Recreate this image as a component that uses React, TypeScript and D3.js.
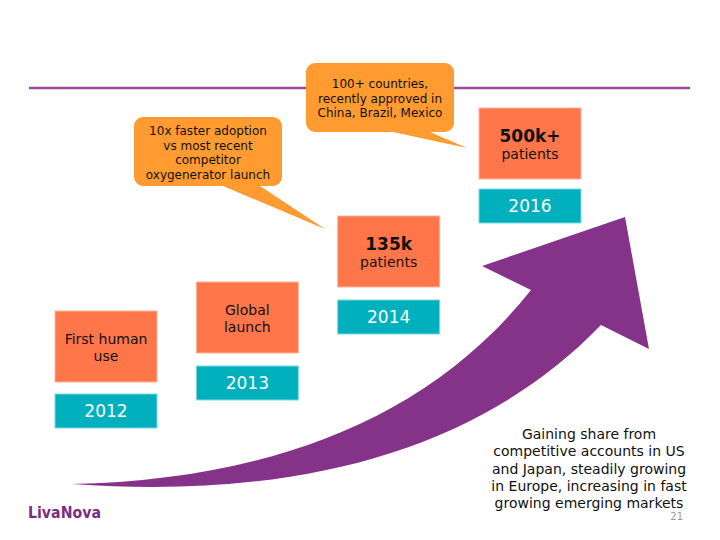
import React from "react";
import * as d3 from "d3";

const years = ["2012", "2013", "2014", "2016"];
const milestoneLines = [["First human", "use"], ["Global", "launch"], ["135k", "patients"], ["500k+", "patients"]];
const boldFirst = [false, false, true, true];
const boxTops = [311, 282, 216, 108];
const yearGap = [12, 13, 13, 10];
const callout1 = ["10x faster adoption", "vs most recent", "competitor", "oxygenerator launch"];
const callout2 = ["100+ countries,", "recently approved in", "China, Brazil, Mexico"];
const summary = ["Gaining share from", "competitive accounts in US", "and Japan, steadily growing", "in Europe, increasing in fast", "growing emerging markets"];

const W = 720, H = 540;
const ORANGE = "#FF764B";
const TEAL = "#00B1BD";
const CALLOUT = "#FF9B30";
const PURPLE = "#843388";
const FONT = "'DejaVu Sans', Verdana, sans-serif";

export default function App() {
  const x = d3.scalePoint<string>().domain(years).range([55, 479]);
  const bw = 102, bh = 71, th = 34;

  const arrow = d3.path();
  arrow.moveTo(72, 484);
  arrow.bezierCurveTo(250, 480, 420, 430, 531, 290);
  arrow.lineTo(482, 266);
  arrow.lineTo(625, 217);
  arrow.lineTo(649, 349);
  arrow.lineTo(601, 325);
  arrow.bezierCurveTo(480, 450, 300, 500, 72, 484);
  arrow.closePath();

  const callout = (x0: number, y0: number, x1: number, y1: number, r: number, b1: number, b2: number, tip: [number, number]) => {
    const p = d3.path();
    p.moveTo(x0 + r, y0);
    p.lineTo(x1 - r, y0);
    p.arcTo(x1, y0, x1, y0 + r, r);
    p.lineTo(x1, y1 - r);
    p.arcTo(x1, y1, x1 - r, y1, r);
    p.lineTo(b2, y1);
    p.lineTo(tip[0], tip[1]);
    p.lineTo(b1, y1);
    p.lineTo(x0 + r, y1);
    p.arcTo(x0, y1, x0, y1 - r, r);
    p.lineTo(x0, y0 + r);
    p.arcTo(x0, y0, x0 + r, y0, r);
    p.closePath();
    return p.toString();
  };

  return (
    <svg width={W} height={H} style={{ position: "absolute", left: 0, top: 0, background: "#fff" }} fontFamily={FONT}>
      <rect width={W} height={H} fill="#fff" />
      <line x1={29} x2={690} y1={88} y2={88} stroke="#9A4A9C" strokeWidth={2.5} />

      <path d={arrow.toString()} fill={PURPLE} />

      {years.map((yr, i) => {
        const bx = x(yr)!;
        const top = boxTops[i];
        const tTop = top + bh + yearGap[i];
        const lines = milestoneLines[i];
        const bold = boldFirst[i];
        return (
          <g key={yr}>
            <rect x={bx} y={top} width={bw} height={bh} fill={ORANGE} stroke="#FFB49A" strokeWidth={1} />
            {lines.map((l, j) => (
              <text key={j} x={bx + bw / 2} y={top + bh / 2 + (j === 0 ? (bold ? -1.5 : -3) : (bold ? 15.5 : 14.5))} textAnchor="middle"
                fontSize={bold && j === 0 ? 17 : 14} fontWeight={bold && j === 0 ? "bold" : "normal"} fill="#111">
                {l}
              </text>
            ))}
            <rect x={bx} y={tTop} width={bw} height={th} fill={TEAL} stroke="#7FD8DE" strokeWidth={1} />
            <text x={bx + bw / 2} y={tTop + th / 2 + 6} textAnchor="middle" fontSize={17} fill="#fff">{yr}</text>
          </g>
        );
      })}

      <path d={callout(134, 117, 282, 186, 9, 223, 260, [325, 229])} fill={CALLOUT} />
      {callout1.map((l, j) => (
        <text key={j} x={208} y={135 + j * 14.5} textAnchor="middle" fontSize={12} fill="#111">{l}</text>
      ))}
      <path d={callout(306, 63, 454, 132, 9, 393, 430, [467, 148])} fill={CALLOUT} />
      {callout2.map((l, j) => (
        <text key={j} x={380} y={88 + j * 14.5} textAnchor="middle" fontSize={12} fill="#111">{l}</text>
      ))}

      {summary.map((l, j) => (
        <text key={j} x={589} y={439 + j * 17.3} textAnchor="middle" fontSize={14} fill="#111">{l}</text>
      ))}
      <text x={683} y={520} textAnchor="end" fontSize={10} fill="#999">21</text>

      <text x={28} y={518} fontSize={15} fontWeight="bold" fill="#7B2C83" textLength={73} lengthAdjust="spacingAndGlyphs">LivaNova</text>
    </svg>
  );
}
